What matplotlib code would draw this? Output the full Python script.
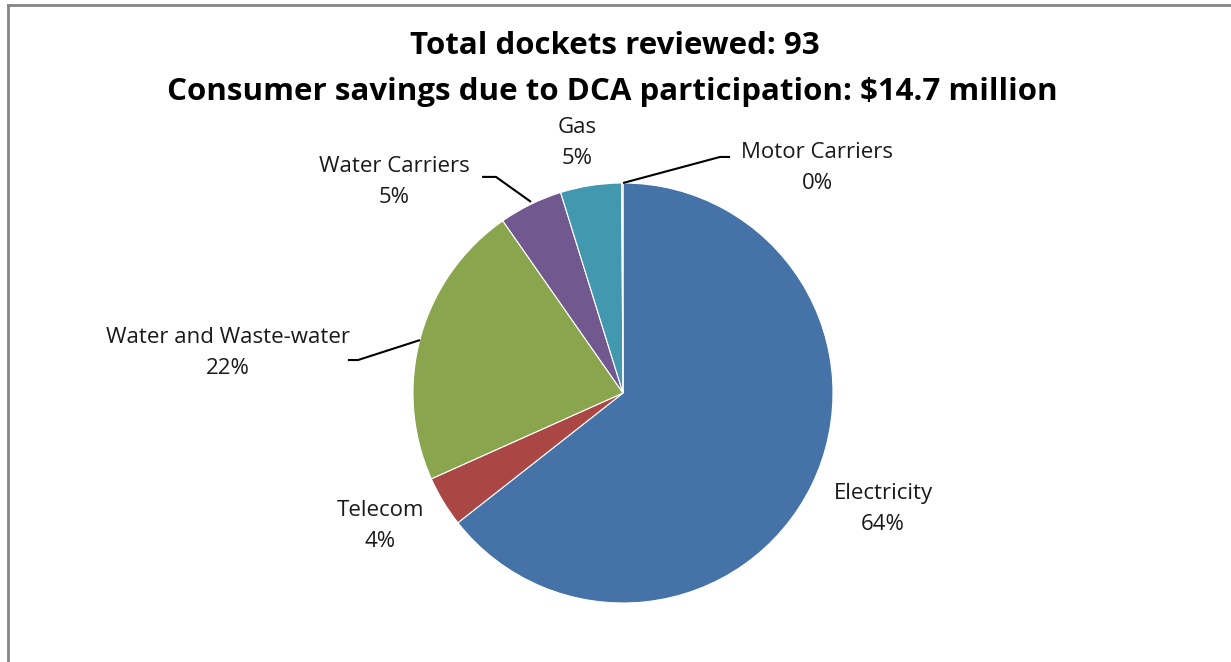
import matplotlib.pyplot as plt
from matplotlib.lines import Line2D

# slice data (percent of consumer savings), clockwise from 12 o'clock
sectors = ['Electricity', 'Telecom', 'Water and Waste-water', 'Water Carriers', 'Gas', 'Motor Carriers']
shares = [64.4, 3.9, 22.0, 4.9, 4.7, 0.1]
colors = ['#4572A7', '#AA4643', '#89A54E', '#71588F', '#4198AF', '#DB843D']
title_lines = ['Total dockets reviewed: 93',
               'Consumer savings due to DCA participation: $14.7 million']

plt.rcParams['font.family'] = ['Open Sans', 'DejaVu Sans']

W, H = 1231, 662
cx, cy, r = 623, 393, 210   # pie centre / radius in pixels
fig = plt.figure(figsize=(W / 100, H / 100), dpi=100)
ax = fig.add_axes([0, 0, 1, 1])

ax.pie(shares, colors=colors, startangle=90, counterclock=False,
       wedgeprops=dict(edgecolor='white', linewidth=0.8))

# pie() resets limits, so set them afterwards
ax.set_xlim(-cx / r, (W - cx) / r)
ax.set_ylim(-(H - cy) / r, cy / r)
ax.set_aspect('auto')
ax.axis('off')

# label positions (pie units), leader lines where the chart has them
label_pos = {
    'Electricity': (1.238, -0.552),
    'Telecom': (-1.157, -0.633),
    'Water and Waste-water': (-1.881, 0.190),
    'Water Carriers': (-1.090, 1.005),
    'Gas': (-0.219, 1.190),
    'Motor Carriers': (0.924, 1.071),
}
leaders = {
    'Motor Carriers': [(0.0, 1.0), (0.462, 1.124), (0.51, 1.124)],
    'Water Carriers': [(-0.438, 0.910), (-0.605, 1.029), (-0.671, 1.029)],
    'Water and Waste-water': [(-0.967, 0.252), (-1.262, 0.157), (-1.31, 0.157)],
}

for name, val in zip(sectors, shares):
    x, y = label_pos[name]
    ax.text(x, y, '%s\n%d%%' % (name, round(val)), ha='center', va='center',
            fontsize=16, color='#1a1a1a', linespacing=1.65)
    if name in leaders:
        pts = leaders[name]
        ax.plot([p[0] for p in pts], [p[1] for p in pts], color='black', lw=1.5,
                solid_capstyle='butt')

fig.text(615 / W, 1 - 46 / H, title_lines[0], ha='center', va='center',
         fontsize=22.5, fontweight='bold')
fig.text(612 / W, 1 - 92 / H, title_lines[1], ha='center', va='center',
         fontsize=22.5, fontweight='bold')

# chart frame (only top and left edges are visible in the crop)
fig.add_artist(Line2D([8 / W, 1], [1 - 5 / H, 1 - 5 / H], color='#868686', lw=2))
fig.add_artist(Line2D([8 / W, 8 / W], [0, 1 - 5 / H], color='#868686', lw=2))

fig.savefig('out.png', dpi=100, facecolor='white')
